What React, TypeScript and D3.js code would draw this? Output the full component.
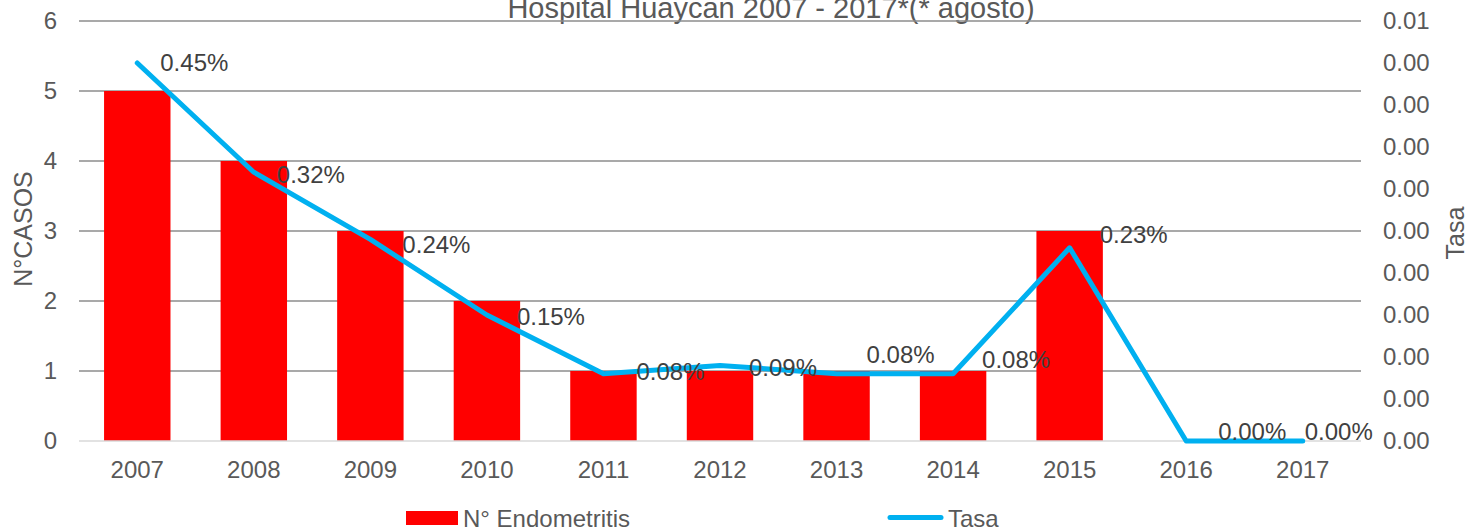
import React from 'react'
import * as d3 from 'd3'

const years = ['2007', '2008', '2009', '2010', '2011', '2012', '2013', '2014', '2015', '2016', '2017']
const casos = [5, 4, 3, 2, 1, 1, 1, 1, 3, 0, 0]
const tasa = [0.0045, 0.0032, 0.0024, 0.0015, 0.0008, 0.0009, 0.0008, 0.0008, 0.0023, 0, 0]
const tasaLabels = ['0.45%', '0.32%', '0.24%', '0.15%', '0.08%', '0.09%', '0.08%', '0.08%', '0.23%', '0.00%', '0.00%']
const leftTicks = [0, 1, 2, 3, 4, 5, 6]
const rightTicks = [0, 0.0005, 0.001, 0.0015, 0.002, 0.0025, 0.003, 0.0035, 0.004, 0.0045, 0.005]
const rightTickLabels = ['0.00', '0.00', '0.00', '0.00', '0.00', '0.00', '0.00', '0.00', '0.00', '0.00', '0.01']
// label nudges relative to each point (excel moved some by hand)
const labelNudge: [number, number][] = [
  [23, 0], [23, 2], [32, 5], [30, 2], [33, -2], [29, 2], [30, -19], [29, -14], [30, -13], [32, -9], [2, -9],
]

const W = 1478
const H = 529
const FONT = '"Liberation Sans", Arial, sans-serif'
const TXT = '#595959'
const FS = 24

export default function App() {
  const margin = { top: 21, right: 117, bottom: 88, left: 79 }
  const x = d3.scaleBand<string>().domain(years).range([margin.left, W - margin.right]).paddingInner(0.43).paddingOuter(0.215)
  const yL = d3.scaleLinear().domain([0, 6]).range([H - margin.bottom, margin.top])
  const yR = d3.scaleLinear().domain([0, 0.005]).range([H - margin.bottom, margin.top])
  const cx = (d: string) => (x(d) ?? 0) + x.bandwidth() / 2

  const line = d3.line<number>()
    .x((_, i) => cx(years[i]))
    .y(d => yR(d))

  const x0 = margin.left
  const x1 = W - margin.right
  const yMid = (yL(0) + yL(6)) / 2

  return (
    <svg width={W} height={H} style={{ position: 'absolute', left: 0, top: 0, background: '#fff' }} fontFamily={FONT}>
      <text x={771} y={18} fontSize={29} fill={TXT} textAnchor="middle">Hospital Huaycan 2007 - 2017*(* agosto)</text>

      {leftTicks.map(t => (
        <g key={'l' + t}>
          {t > 0 && <line x1={x0} x2={x1} y1={yL(t)} y2={yL(t)} stroke="#8c8c8c" strokeWidth={1.4} />}
          <text x={57} y={yL(t)} dy="0.35em" fontSize={FS} fill={TXT} textAnchor="end">{t}</text>
        </g>
      ))}
      {rightTicks.map((t, i) => (
        <text key={'r' + i} x={1383} y={yR(t)} dy="0.35em" fontSize={FS} fill={TXT}>{rightTickLabels[i]}</text>
      ))}

      {years.map((yr, i) => (
        <rect key={'b' + yr} x={x(yr)} y={yL(casos[i])} width={x.bandwidth()} height={yL(0) - yL(casos[i])} fill="#ff0000" />
      ))}
      <line x1={x0} x2={x1} y1={yL(0)} y2={yL(0)} stroke="#d9d9d9" strokeWidth={1.5} />

      {years.map(yr => (
        <text key={'x' + yr} x={cx(yr)} y={478} fontSize={FS} fill={TXT} textAnchor="middle">{yr}</text>
      ))}

      <path d={line(tasa) ?? ''} fill="none" stroke="#00b0f0" strokeWidth={5} strokeLinejoin="round" strokeLinecap="round" />

      {years.map((yr, i) => (
        <text key={'t' + yr} x={cx(yr) + labelNudge[i][0]} y={yR(tasa[i]) + labelNudge[i][1]} dy="0.35em" fontSize={FS} fill="#404040">{tasaLabels[i]}</text>
      ))}

      <text transform={`translate(32,${yMid - 2}) rotate(-90)`} fontSize={25} fill={TXT} textAnchor="middle">N°CASOS</text>
      <text transform={`translate(1464,${yMid + 2}) rotate(-90)`} fontSize={25} fill={TXT} textAnchor="middle">Tasa</text>

      <rect x={406} y={511} width={52} height={14} fill="#ff0000" />
      <text x={463} y={527} fontSize={FS} fill={TXT}>N° Endometritis</text>
      <line x1={890} x2={941} y1={517.5} y2={517.5} stroke="#00b0f0" strokeWidth={5} strokeLinecap="round" />
      <text x={948} y={527} fontSize={FS} fill={TXT}>Tasa</text>
    </svg>
  )
}
